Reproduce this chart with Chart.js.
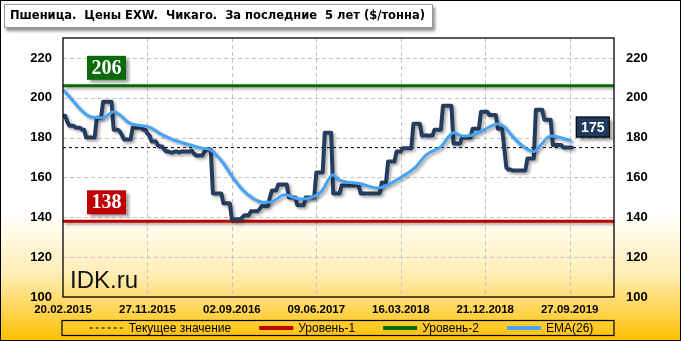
<!DOCTYPE html>
<html lang="ru">
<head>
  <meta charset="UTF-8">
  <title>Пшеница. Цены EXW. Чикаго</title>
  <script src="https://cdn.jsdelivr.net/npm/chart.js"></script>
  <style>
    html, body {
      margin: 0;
      padding: 0;
      background: #fff;
    }

    canvas {
      display: block;
    }
  </style>
</head>
<body>

  <canvas id="grafico" width="681" height="341"></canvas>

  <script>
    const title = 'Пшеница.  Цены EXW.  Чикаго.  За последние  5 лет ($/тонна)';

    // x axis: weeks since 20.02.2015, a label every 40 weeks
    const xLabels = ['20.02.2015', '27.11.2015', '02.09.2016', '09.06.2017', '16.03.2018', '21.12.2018', '27.09.2019'];
    const weeksPerLabel = 40;
    const weeksOnAxis = 261;

    const yTicks = [100, 120, 140, 160, 180, 200, 220];
    const yMax = 230;

    // weekly price, $/t
    const prices = [
      191, 191, 188, 186, 186, 186, 185, 185, 185, 184,
      184, 180, 180, 180, 180, 180, 190, 190, 190, 198,
      198, 198, 198, 198, 184, 184, 184, 183, 181, 179,
      179, 179, 179, 185, 185, 185, 185, 185, 184, 184,
      182, 181, 178, 178, 178, 176, 175.5, 175.5, 174, 173,
      173, 172.5, 172.5, 173, 173, 172.5, 173, 173, 173, 173,
      173, 173.5, 172, 171, 171, 171, 171, 173, 174, 174,
      174, 152, 152, 152, 152, 152, 147, 147, 147, 147,
      139, 139, 139, 139, 139, 140, 141, 141, 141, 143,
      143, 143, 143, 144, 145.5, 145.5, 145.5, 145.5, 150, 153.5,
      153.5, 153.5, 156.5, 156.5, 156.5, 156.5, 156.5, 150, 150, 150,
      150, 146, 146, 146, 146, 150, 150, 150, 150, 150,
      162.5, 162.5, 162.5, 162.5, 182.5, 182.5, 182.5, 182.5, 152, 152,
      152, 152, 156, 156, 156, 156, 156, 156, 156, 156,
      156, 152, 152, 152, 152, 152, 152, 152, 152, 152,
      152, 157.5, 157.5, 157.5, 168, 168, 168, 168, 173, 173,
      173, 174.7, 174.7, 174.7, 174.7, 174.7, 187, 187, 187, 187,
      181, 181, 181, 181, 181, 181, 184, 184, 184, 184,
      196, 196, 196, 196, 196, 177, 177, 177, 177, 180,
      180, 180, 180, 180, 184.5, 184.5, 184.5, 184.5, 193, 193,
      193, 193, 191.3, 191.3, 191.3, 191.3, 184.5, 184.5, 184.5, 175,
      165, 164, 164, 163.5, 163.5, 163.5, 163.5, 163.5, 163.5, 163.5,
      169.5, 169.5, 169.5, 169.5, 194, 194, 194, 194, 189, 189,
      189, 189, 176.3, 176.3, 176.3, 176.3, 176.3, 175, 175, 175,
      175, 175
    ];

    // EMA(26)
    const emaWeeks = [0, 14, 19, 24, 32, 41, 46, 51, 57, 63, 66, 70, 76, 80, 85, 90, 95, 98, 105, 112, 117, 122, 128, 130,
      141, 149, 153, 156, 160, 167, 172, 179, 185, 189, 194, 199, 206, 209, 213, 218, 223, 225, 231, 235, 241];
    const emaValues = [204, 190.2, 190, 193, 187, 185.3, 182, 179.5, 177.3, 175.5, 174.7, 173.8, 167, 160.5, 153.8, 149.5,
      147.5, 147.5, 151.3, 149.2, 149.7, 152.5, 161.3, 159.2, 156.8, 154.7, 155.8, 157.5, 160, 165.2, 171.3, 175.5,
      182.5, 180.8, 181.3, 183.8, 186.8, 185.5, 180.5, 175.5, 173, 174.7, 180.8, 180.2, 178.3];

    const level1 = 138;
    const level2 = 206;
    const current = prices[prices.length - 1];

    const navy = '#243d5e';
    const red = '#c00000';
    const green = '#0a6a0a';
    const blue = '#47a3f3';

    function flat(v) {
      return [{ x: 0, y: v }, { x: weeksOnAxis, y: v }];
    }

    const decor = {
      id: 'decor',
      beforeDraw(chart) {
        const { ctx, width, height } = chart;
        const g = ctx.createLinearGradient(0, 0, 0, height);
        g.addColorStop(0, '#ffffff');
        g.addColorStop(0.62, '#ffffff');
        g.addColorStop(0.8, '#ffeeb8');
        g.addColorStop(1, '#ffc000');
        ctx.save();
        ctx.fillStyle = g;
        ctx.fillRect(0, 0, width, height);
        ctx.strokeStyle = '#000';
        ctx.lineWidth = 1;
        ctx.strokeRect(0.5, 0.5, width - 1, height - 1);

        // title box
        ctx.shadowColor = 'rgba(0,0,0,0.45)';
        ctx.shadowBlur = 3;
        ctx.shadowOffsetX = 2;
        ctx.shadowOffsetY = 3;
        ctx.fillStyle = '#fff';
        ctx.fillRect(4, 4, 429, 24);
        ctx.shadowColor = 'transparent';
        ctx.strokeStyle = '#9a9a9a';
        ctx.strokeRect(4.5, 4.5, 428, 23);
        ctx.fillStyle = '#000';
        ctx.font = 'bold 11.5px "DejaVu Sans"';
        ctx.textBaseline = 'middle';
        ctx.fillText(title, 10, 16.5);
        ctx.restore();
      },
      beforeDatasetsDraw(chart) {
        // dashed grid
        const { ctx, chartArea: a } = chart;
        ctx.save();
        ctx.strokeStyle = '#c4c4c4';
        ctx.lineWidth = 1;
        ctx.setLineDash([4, 3]);
        ctx.beginPath();
        chart.scales.y.ticks.forEach(t => {
          const py = Math.round(chart.scales.y.getPixelForValue(t.value)) + 0.5;
          if (py < a.bottom - 1) { ctx.moveTo(a.left, py); ctx.lineTo(a.right, py); }
        });
        chart.scales.x.ticks.forEach(t => {
          const px = Math.round(chart.scales.x.getPixelForValue(t.value)) + 0.5;
          if (px > a.left + 1) { ctx.moveTo(px, a.top); ctx.lineTo(px, a.bottom); }
        });
        ctx.stroke();
        ctx.restore();
      },
      beforeDatasetDraw(chart, args) {
        if (!chart.data.datasets[args.index].shadow) return;
        const ctx = chart.ctx;
        ctx.save();
        ctx.shadowColor = 'rgba(0,0,0,0.35)';
        ctx.shadowBlur = 3;
        ctx.shadowOffsetX = 2;
        ctx.shadowOffsetY = 2;
      },
      afterDatasetDraw(chart, args) {
        if (chart.data.datasets[args.index].shadow) chart.ctx.restore();
      },
      afterDraw(chart) {
        const { ctx, chartArea: a } = chart;
        const ys = chart.scales.y;
        const xs = chart.scales.x;
        ctx.save();

        // frame
        ctx.strokeStyle = '#000';
        ctx.lineWidth = 1.3;
        ctx.strokeRect(a.left, a.top, a.right - a.left, a.bottom - a.top);

        // level tags
        function tag(text, fill, x, bottom, w, h, font) {
          ctx.save();
          ctx.shadowColor = 'rgba(0,0,0,0.4)';
          ctx.shadowBlur = 3;
          ctx.shadowOffsetX = 3;
          ctx.shadowOffsetY = 3;
          ctx.fillStyle = fill;
          ctx.fillRect(x, bottom - h, w, h);
          ctx.restore();
          ctx.fillStyle = '#fff';
          ctx.font = font;
          ctx.textAlign = 'center';
          ctx.textBaseline = 'middle';
          ctx.fillText(text, x + w / 2, bottom - h / 2 + 1);
        }
        tag(String(level2), green, a.left + 24, ys.getPixelForValue(level2) - 6, 39, 24, 'bold 20px "Liberation Serif"');
        tag(String(level1), red, a.left + 24, ys.getPixelForValue(level1) - 7, 39, 24, 'bold 20px "Liberation Serif"');

        const cx = xs.getPixelForValue(prices.length - 1) + 4;
        const cb = ys.getPixelForValue(current) - 10;
        tag(String(current), '#1f3a5c', cx, cb, 34, 21, 'bold 14px "Liberation Sans"');
        ctx.strokeStyle = '#000';
        ctx.lineWidth = 1;
        ctx.strokeRect(cx + 0.5, cb - 20.5, 33, 20);

        // watermark
        ctx.fillStyle = '#111';
        ctx.font = '24px "Liberation Sans"';
        ctx.textAlign = 'left';
        ctx.textBaseline = 'alphabetic';
        ctx.fillText('IDK.ru', a.left + 7, a.bottom - 9);

        // legend
        const top = 320.5, h = 15;
        ctx.strokeStyle = '#000';
        ctx.lineWidth = 1.2;
        ctx.strokeRect(a.left - 1, top, a.right - a.left + 1, h);
        ctx.font = '12px "Liberation Sans"';
        ctx.textBaseline = 'middle';
        const items = chart.data.datasets.filter(d => d.legendPos).sort((p, q) => p.legendPos - q.legendPos);
        const lineW = 34, gapText = 5, gapItems = 28;
        const widths = items.map(d => lineW + gapText + ctx.measureText(d.label).width);
        const total = widths.reduce((s, w) => s + w, 0) + gapItems * (items.length - 1);
        let x = (a.left + a.right) / 2 - total / 2 + 3;
        const my = top + h / 2;
        items.forEach((d, i) => {
          ctx.save();
          ctx.strokeStyle = d.borderColor;
          ctx.lineWidth = d.borderDash ? 1 : 4;
          ctx.setLineDash(d.borderDash || []);
          ctx.beginPath();
          ctx.moveTo(x, my);
          ctx.lineTo(x + lineW, my);
          ctx.stroke();
          ctx.restore();
          ctx.fillStyle = '#000';
          ctx.fillText(d.label, x + lineW + gapText, my + 0.5);
          x += widths[i] + gapItems;
        });
        ctx.restore();
      }
    };

    const ctx = document.getElementById('grafico').getContext('2d');
    new Chart(ctx, {
      type: 'line',
      data: {
        datasets: [
          {
            label: 'EMA(26)',
            legendPos: 4,
            shadow: true,
            data: emaWeeks.map((w, i) => ({ x: w, y: emaValues[i] })),
            borderColor: blue,
            borderWidth: 3,
            tension: 0.4,
            cubicInterpolationMode: 'monotone',
            order: 0
          },
          {
            label: 'Цена',
            shadow: true,
            data: prices.map((v, i) => ({ x: i, y: v })),
            borderColor: navy,
            borderWidth: 4,
            borderJoinStyle: 'round',
            borderCapStyle: 'round',
            tension: 0,
            order: 1
          },
          {
            label: 'Текущее значение',
            legendPos: 1,
            data: flat(current),
            borderColor: '#000',
            borderWidth: 1,
            borderDash: [3, 3],
            order: 2
          },
          {
            label: 'Уровень-1',
            legendPos: 2,
            shadow: true,
            data: flat(level1),
            borderColor: red,
            borderWidth: 3,
            order: 3
          },
          {
            label: 'Уровень-2',
            legendPos: 3,
            shadow: true,
            data: flat(level2),
            borderColor: green,
            borderWidth: 3,
            order: 3
          }
        ]
      },
      options: {
        responsive: false,
        animation: false,
        events: [],
        elements: { point: { radius: 0 } },
        layout: { padding: { top: 38, left: 0, right: 0, bottom: 0 } },
        plugins: {
          legend: { display: false },
          tooltip: { enabled: false }
        },
        scales: {
          x: {
            type: 'linear',
            min: 0,
            max: weeksOnAxis,
            afterBuildTicks: s => { s.ticks = xLabels.map((_, i) => ({ value: i * weeksPerLabel })); },
            afterFit: s => { s.height = 44; },
            ticks: {
              maxRotation: 0,
              autoSkip: false,
              padding: 6,
              color: '#000',
              font: { family: 'Liberation Sans', size: 11.5, weight: 'bold' },
              callback: v => xLabels[v / weeksPerLabel]
            },
            grid: { display: false, drawTicks: false },
            border: { display: false }
          },
          y: {
            position: 'left',
            min: yTicks[0],
            max: yMax,
            afterBuildTicks: s => { s.ticks = yTicks.map(v => ({ value: v })); },
            afterFit: s => { s.width = 63; },
            ticks: {
              padding: 11,
              color: '#000',
              font: { family: 'Liberation Sans', size: 13, weight: 'bold' }
            },
            grid: { display: false, drawTicks: false },
            border: { display: false }
          },
          y2: {
            position: 'right',
            min: yTicks[0],
            max: yMax,
            afterBuildTicks: s => { s.ticks = yTicks.map(v => ({ value: v })); },
            afterFit: s => { s.width = 67; },
            ticks: {
              padding: 12,
              color: '#000',
              font: { family: 'Liberation Sans', size: 13, weight: 'bold' }
            },
            grid: { display: false, drawTicks: false },
            border: { display: false }
          }
        }
      },
      plugins: [decor]
    });
  </script>

</body>
</html>
